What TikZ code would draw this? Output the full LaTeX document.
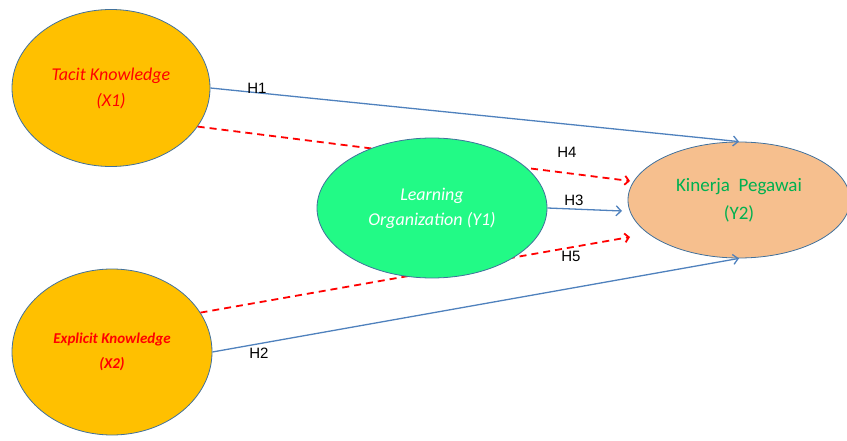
\documentclass[tikz,border=0pt]{standalone}
\usepackage{fontspec}
\setmainfont{Carlito}
\newfontfamily\hfont{Liberation Sans}
\usetikzlibrary{arrows.meta, shapes.geometric}
\definecolor{goldX}{HTML}{FFC000}
\definecolor{greenY}{HTML}{22FA86}
\definecolor{peachY}{HTML}{F6BF8E}
\definecolor{rimB}{HTML}{41719C}
\definecolor{lineB}{HTML}{4F81BD}
\definecolor{textG}{HTML}{00B050}

\begin{document}
\begin{tikzpicture}[
    x=1pt, y=-1pt,
    varNode/.style={ellipse, draw=rimB, thick, inner sep=0pt, align=center},
    hLabel/.style={font=\hfont\fontsize{15}{17}\selectfont},
    solidArrow/.style={draw=lineB, line width=1.3pt, -{Straight Barb[length=5pt,width=10pt]}},
    dashArrow/.style={draw=red, line width=1.8pt, dash pattern=on 7pt off 5pt, -{Straight Barb[length=4pt,width=9pt]}}
]
    \useasboundingbox (0,0) rectangle (847,441);

    \node[varNode, fill=goldX, minimum width=198pt, minimum height=157pt, text=red,
        font=\itshape\fontsize{18}{26}\selectfont] (tacit) at (111,88)
        {Tacit Knowledge\\(X1)};
    \node[varNode, fill=goldX, minimum width=200pt, minimum height=166pt, text=red,
        font=\bfseries\itshape\fontsize{15}{25}\selectfont] (explicit) at (112,352)
        {Explicit Knowledge\\(X2)};
    \node[varNode, fill=peachY, minimum width=222pt, minimum height=116pt, text=textG,
        font=\fontsize{19}{28}\selectfont] (kinerja) at (739,200)
        {Kinerja~~Pegawai\\(Y2)};

    % dashed paths pass under the Y1 ellipse
    \coordinate (tipH4) at (630,181);
    \coordinate (tipH5) at (630,237);
    \draw[dashArrow] (tacit.-24) -- (tipH4);
    \draw[dashArrow] (explicit.24) -- (tipH5);

    \node[varNode, fill=greenY, minimum width=230pt, minimum height=140pt, text=white,
        font=\itshape\fontsize{18}{25}\selectfont] (learning) at (432,208)
        {Learning\\Organization (Y1)};

    \coordinate (tipH3) at (622,211);
    \draw[solidArrow] (tacit.east) -- (kinerja.north);
    \draw[solidArrow] (explicit.east) -- (kinerja.south);
    \draw[solidArrow] (learning.east) -- (tipH3);

    \node[hLabel] (lblH1) at (257,88) {H1};
    \node[hLabel] (lblH2) at (259,353) {H2};
    \node[hLabel] (lblH3) at (574,200) {H3};
    \node[hLabel] (lblH4) at (567,152) {H4};
    \node[hLabel] (lblH5) at (571,256) {H5};
\end{tikzpicture}
\end{document}
